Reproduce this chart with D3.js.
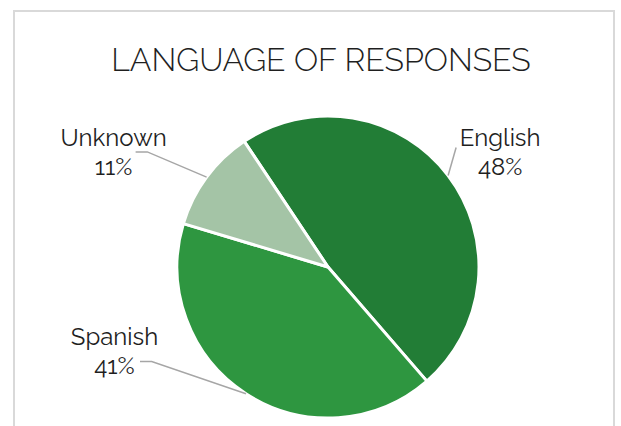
<!DOCTYPE html>
<html>
<head>
<meta charset="utf-8">
<script src="https://cdn.jsdelivr.net/npm/d3@7"></script>
<style>
    body { margin: 0; background: #fff; }
    svg { display: block; }
    text { font-family: Raleway, Lato, sans-serif; fill: #1f1f1f; }
</style>
</head>
<body>
<div id="chart"></div>
<script>
var categories = ["English", "Spanish", "Unknown"];
var shares = [48, 41, 11];
var sliceColors = ["#227d36", "#2e9640", "#a4c4a6"];

// label placement, relative to the point where the leader meets the slice
var labelOffsets = [
    { text: [52, -29.5], elbow: null, end: [8, -28] },
    { text: [-131.5, -49], elbow: [-94.3, -32.3], end: [-106, -32.3] },
    { text: [-93, -30.7], elbow: [-59.3, -25.3], end: [-71, -25.3] }
];

var width = 621,
    height = 426,
    cx = 328,
    cy = 267,
    radius = 151,
    startAngle = -33.7 * Math.PI / 180;

var svg = d3.select("#chart")
    .append("svg")
    .attr("width", width)
    .attr("height", height);

svg.append("rect")
    .attr("x", 14)
    .attr("y", 11)
    .attr("width", 600)
    .attr("height", 480)
    .attr("fill", "none")
    .attr("stroke", "#d9d9d9")
    .attr("stroke-width", 2);

svg.append("text")
    .attr("x", 321)
    .attr("y", 71)
    .attr("text-anchor", "middle")
    .attr("font-size", "32px")
    .attr("font-weight", 300)
    .attr("fill", "#000")
    .text("LANGUAGE OF RESPONSES");

var data = categories.map(function (c, i) {
    return { name: c, value: shares[i], color: sliceColors[i], offset: labelOffsets[i] };
});

var pie = d3.pie()
    .sort(null)
    .value(function (d) { return d.value; })
    .startAngle(startAngle)
    .endAngle(startAngle + 2 * Math.PI);

var arc = d3.arc().innerRadius(0).outerRadius(radius);

var g = svg.append("g").attr("transform", "translate(" + cx + "," + cy + ")");

var arcs = pie(data);

g.selectAll("path.slice")
    .data(arcs)
    .enter().append("path")
    .attr("class", "slice")
    .attr("d", arc)
    .attr("fill", function (d) { return d.data.color; })
    .attr("stroke", "#fff")
    .attr("stroke-width", 3)
    .attr("stroke-linejoin", "round");

function edgePoint(d) {
    var a = (d.startAngle + d.endAngle) / 2;
    return [radius * Math.sin(a), -radius * Math.cos(a)];
}

g.selectAll("polyline.leader")
    .data(arcs)
    .enter().append("polyline")
    .attr("class", "leader")
    .attr("fill", "none")
    .attr("stroke", "#a6a6a6")
    .attr("stroke-width", 1.5)
    .attr("points", function (d) {
        var p = edgePoint(d), o = d.data.offset, pts = [p];
        if (o.elbow) pts.push([p[0] + o.elbow[0], p[1] + o.elbow[1]]);
        pts.push([p[0] + o.end[0], p[1] + o.end[1]]);
        return pts.map(function (q) { return q.join(","); }).join(" ");
    });

var labels = g.selectAll("text.label")
    .data(arcs)
    .enter().append("text")
    .attr("class", "label")
    .attr("text-anchor", "middle")
    .attr("font-size", "24px")
    .attr("font-weight", 400)
    .attr("transform", function (d) {
        var p = edgePoint(d), o = d.data.offset;
        return "translate(" + (p[0] + o.text[0]) + "," + (p[1] + o.text[1]) + ")";
    });

labels.append("tspan")
    .attr("x", 0)
    .text(function (d) { return d.data.name; });

labels.append("tspan")
    .attr("x", 0)
    .attr("dy", 29)
    .text(function (d) { return d3.format(".0f")(d.data.value) + "%"; });
</script>
</body>
</html>
